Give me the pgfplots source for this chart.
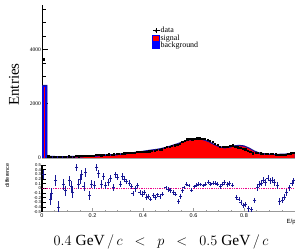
\documentclass[border=0pt]{standalone}
\usepackage{fontspec}
\setmainfont{Liberation Serif}
\setsansfont{Liberation Sans}
\usepackage{pgfplots}
\usepackage{pgfplotstable}
\pgfplotsset{compat=1.18}
\definecolor{navyb}{RGB}{20,20,140}
\definecolor{diffb}{RGB}{25,25,150}

\pgfplotstableread{
x y
0.005 3650
0.025 70
0.035 55
0.045 55
0.055 60
0.065 45
0.075 55
0.085 58
0.095 55
0.105 62
0.115 60
0.125 55
0.135 75
0.145 68
0.155 75
0.165 72
0.175 85
0.185 75
0.195 90
0.205 95
0.215 110
0.225 112
0.235 108
0.245 120
0.255 122
0.265 135
0.275 130
0.285 145
0.295 150
0.305 150
0.315 170
0.325 180
0.335 190
0.345 200
0.355 205
0.365 200
0.375 220
0.385 225
0.395 230
0.405 245
0.415 240
0.425 250
0.435 270
0.445 280
0.455 295
0.465 300
0.475 330
0.485 380
0.495 405
0.505 430
0.515 455
0.525 470
0.535 490
0.545 520
0.555 590
0.565 640
0.575 690
0.585 700
0.595 695
0.605 725
0.615 730
0.625 735
0.635 725
0.645 720
0.655 680
0.665 640
0.675 590
0.685 530
0.695 480
0.705 430
0.715 420
0.725 410
0.735 420
0.745 450
0.755 470
0.765 430
0.775 400
0.785 380
0.795 350
0.805 320
0.815 280
0.825 230
0.835 180
0.845 190
0.855 185
0.865 175
0.875 170
0.885 165
0.895 160
0.905 155
0.915 150
0.925 145
0.935 120
0.945 110
0.955 115
0.965 130
0.975 150
0.985 175
0.995 195
}\datatab

\pgfplotstableread{
x y e
0.005 0.29 0.10
0.034 -0.23 0.12
0.038 -0.11 0.12
0.055 0.16 0.12
0.065 -0.41 0.13
0.084 0.09 0.12
0.093 -0.05 0.11
0.107 0.16 0.11
0.115 0.04 0.11
0.121 -0.09 0.11
0.137 0.45 0.07
0.145 0.09 0.10
0.151 0.20 0.10
0.158 0.29 0.10
0.166 0.04 0.10
0.172 0.34 0.10
0.187 -0.16 0.10
0.197 0.09 0.09
0.206 0.07 0.09
0.217 0.45 0.07
0.225 0.31 0.09
0.234 0.09 0.09
0.243 0.25 0.08
0.253 0.06 0.08
0.262 0.13 0.08
0.272 0.21 0.08
0.282 0.02 0.08
0.292 0.29 0.07
0.300 0.24 0.07
0.310 0.09 0.07
0.318 0.25 0.07
0.327 0.20 0.06
0.336 0.15 0.06
0.345 0.11 0.06
0.354 0.04 0.06
0.360 -0.11 0.06
0.370 -0.01 0.06
0.378 0.06 0.06
0.388 -0.09 0.06
0.397 -0.12 0.06
0.405 -0.09 0.06
0.414 -0.19 0.06
0.421 -0.18 0.05
0.430 -0.23 0.05
0.440 -0.16 0.05
0.448 -0.19 0.05
0.458 -0.14 0.05
0.467 -0.18 0.05
0.476 -0.12 0.05
0.491 0.01 0.05
0.500 -0.03 0.05
0.509 -0.04 0.05
0.520 -0.09 0.05
0.530 -0.12 0.05
0.540 -0.28 0.05
0.549 -0.18 0.05
0.557 -0.05 0.04
0.562 0.02 0.04
0.573 0.09 0.04
0.582 0.06 0.04
0.593 -0.04 0.04
0.602 0.04 0.04
0.611 0.07 0.04
0.620 0.09 0.04
0.629 0.08 0.04
0.638 0.06 0.04
0.648 0.09 0.04
0.658 0.13 0.04
0.667 0.09 0.04
0.677 0.11 0.04
0.687 0.11 0.04
0.696 0.09 0.05
0.706 0.04 0.05
0.716 0.09 0.05
0.724 0.12 0.05
0.734 0.08 0.05
0.743 0.11 0.05
0.753 0.07 0.05
0.771 -0.19 0.05
0.780 -0.23 0.05
0.788 -0.30 0.05
0.797 -0.37 0.05
0.806 -0.34 0.05
0.817 -0.44 0.06
0.830 -0.46 0.06
0.843 -0.26 0.06
0.852 0.02 0.07
0.860 0.09 0.07
0.869 0.11 0.07
0.878 0.18 0.07
0.886 0.13 0.07
0.895 0.22 0.07
0.904 0.16 0.07
0.913 0.18 0.07
0.922 0.13 0.07
0.931 0.06 0.07
0.940 -0.28 0.07
0.951 -0.25 0.07
0.960 -0.19 0.07
0.969 -0.09 0.07
0.980 0.01 0.07
0.990 0.11 0.07
0.997 0.16 0.07
}\difftab

\begin{document}
\begin{tikzpicture}
\useasboundingbox (0,0) rectangle (295bp,250bp);
% ---------------- top panel
\begin{axis}[
  at={(42bp,92bp)}, anchor=south west, scale only axis,
  width=252.5bp, height=153bp,
  xmin=0, xmax=1, ymin=0, ymax=5650,
  axis y line*=left, axis x line*=bottom,
  x axis line style={gray!70, line width=0.8pt},
  y axis line style={black, line width=0.9pt},
  xtick=\empty,
  ytick={0,2000,4000},
  minor ytick={500,1000,1500,2500,3000,3500,4500,5000,5500},
  tick align=inside,
  major tick length=6bp, minor tick length=3.5bp,
  every tick/.style={black, line width=0.8pt},
  /pgf/number format/assume math mode=true,
  /pgf/number format/1000 sep={},
  scaled y ticks=false,
  yticklabel style={font=\fontsize{5.5}{6}\selectfont, inner sep=1pt},
  ylabel={Entries},
  ylabel style={font=\fontsize{15}{15}\selectfont, at={(axis description cs:-0.111,0.48)}, anchor=center, rotate=0},
  legend style={at={(axis description cs:0.436,0.86)}, anchor=north west, draw=none, fill=none,
    font=\fontsize{8}{8}\selectfont, inner sep=0pt, row sep=-0.8pt,
    nodes={inner sep=0.6pt}},
  legend cell align=left,
]
\addlegendimage{legend image code/.code={\draw[black, line width=0.6pt] (0bp,0bp)--(7bp,0bp); \draw[black, line width=0.6pt] (3.5bp,-2.5bp)--(3.5bp,2.5bp); \fill[black] (3.5bp,0bp) circle (0.9bp);}}
\addlegendentry{data}
\addlegendimage{legend image code/.code={\filldraw[fill=red, draw=blue, line width=0.7pt] (0bp,-2.8bp) rectangle (7bp,2.8bp);}}
\addlegendentry{signal}
\addlegendimage{legend image code/.code={\filldraw[fill=blue, draw=blue, line width=0.7pt] (0bp,-2.8bp) rectangle (7bp,2.8bp);}}
\addlegendentry{background}

% total (signal + background) drawn in blue
\addplot[fill=blue, draw=navyb, line width=0.9pt, forget plot] coordinates {
(0,2680) (0.02,2680) (0.02,70) (0.04,60) (0.06,55) (0.08,55) (0.10,55)
(0.12,60) (0.14,65) (0.16,70) (0.18,80) (0.20,90) (0.22,100) (0.24,110) (0.26,120)
(0.28,130) (0.30,140) (0.32,160) (0.34,180) (0.36,200) (0.38,225) (0.40,250) (0.42,280)
(0.44,305) (0.46,330) (0.48,370) (0.50,420) (0.52,480) (0.54,540) (0.56,610) (0.58,670)
(0.60,700) (0.62,705) (0.64,680) (0.66,610) (0.68,510) (0.70,430) (0.72,385) (0.74,395)
(0.76,450) (0.78,470) (0.80,450) (0.82,370) (0.84,265) (0.86,190) (0.88,160) (0.90,145)
(0.92,140) (0.94,140) (0.96,145) (0.98,160) (1.00,180)
} \closedcycle;
% signal in red
\addplot[fill=red, draw=none, forget plot] coordinates {
(0.022,0) (0.022,10) (0.04,5) (0.06,5) (0.08,5) (0.10,10) (0.12,15) (0.14,20) (0.16,25)
(0.18,35) (0.20,45) (0.22,55) (0.24,65) (0.26,78) (0.28,88) (0.30,100) (0.32,120)
(0.34,142) (0.36,163) (0.38,189) (0.40,215) (0.42,246) (0.44,272) (0.46,298) (0.48,339)
(0.50,390) (0.52,450) (0.54,510) (0.56,580) (0.58,640) (0.60,670) (0.62,675) (0.64,650)
(0.66,580) (0.68,480) (0.70,400) (0.72,355) (0.74,365) (0.76,420) (0.78,440) (0.80,420)
(0.82,340) (0.84,235) (0.86,160) (0.88,130) (0.90,115) (0.92,110) (0.94,110) (0.96,115)
(0.98,130) (1.00,150)
} \closedcycle;
\addplot[red, line width=1.1pt, forget plot] coordinates {(0.0095,0) (0.0095,2620)};
% data
\addplot[only marks, mark=square*, mark size=0.65pt, black, forget plot] table[x=x, y=y] {\datatab};
\end{axis}

% ---------------- bottom panel
\begin{axis}[
  at={(42bp,38.3bp)}, anchor=south west, scale only axis,
  width=252.5bp, height=46.7bp,
  xmin=0, xmax=1, ymin=-0.5, ymax=0.5,
  axis y line*=left, axis x line*=bottom,
  x axis line style={gray!80, line width=0.8pt},
  y axis line style={black, line width=1.2pt},
  xtick={0,0.2,0.4,0.6,0.8},
  xticklabels={0,0.2,0.4,0.6,0.8},
  minor xtick={0.05,0.1,0.15,0.25,0.3,0.35,0.45,0.5,0.55,0.65,0.7,0.75,0.85,0.9,0.95},
  ytick={-0.5,-0.4,-0.3,-0.2,-0.1,0,0.1,0.2,0.3,0.4,0.5},
  yticklabels={-0.5,-0.4,-0.3,-0.2,-0.1,0,0.1,0.2,0.3,0.4,0.5},
  tick align=inside,
  major tick length=4bp, minor tick length=2bp,
  every tick/.style={black, line width=0.7pt},
  xtick style={gray!80},
  yticklabel style={font=\sffamily\fontsize{4.2}{4.2}\selectfont, inner sep=0.8pt},
  xticklabel style={font=\sffamily\fontsize{5.5}{6}\selectfont, inner sep=1.5pt},
  ylabel={difference},
  ylabel style={font=\sffamily\fontsize{5.5}{6}\selectfont, at={(axis description cs:-0.138,0.78)}, anchor=center},
  xlabel={E/p},
  xlabel style={font=\sffamily\fontsize{6}{6}\selectfont, at={(axis description cs:0.955,-0.22)}, anchor=west},
]
\addplot[magenta, densely dotted, line width=0.8pt] coordinates {(0,0) (1,0)};
\addplot[diffb, only marks, mark=-, mark size=1.5pt, line width=0.8pt,
  error bars/.cd, y dir=both, y explicit,
  error bar style={line width=0.8pt, diffb}, error mark=none]
  table[x=x, y=y, y error=e] {\difftab};
\end{axis}

\node[font=\fontsize{15.5}{16}\selectfont, anchor=base] at (161bp,4.5bp)
  {$0.4\;\mathrm{GeV}\,/\,c \;\;<\;\; p \;\;<\;\; 0.5\;\mathrm{GeV}\,/\,c$};
\end{tikzpicture}
\end{document}
